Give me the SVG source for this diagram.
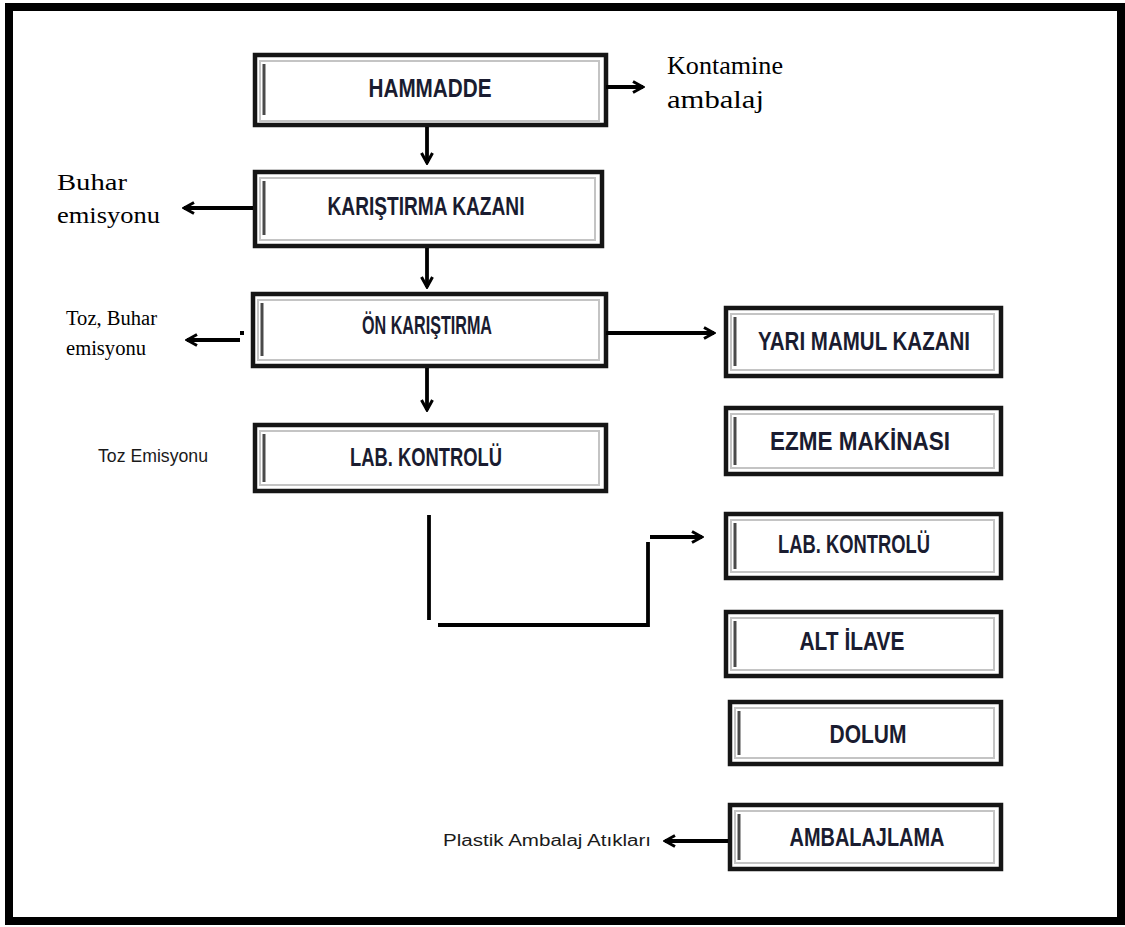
<svg xmlns="http://www.w3.org/2000/svg" width="1125" height="927" viewBox="0 0 1125 927">
<defs>
<style>
.frame{fill:none;stroke:#000;stroke-width:8}
.bo{fill:#fff;stroke:#151515;stroke-width:4.5}
.bi{fill:none;stroke:#c4c4c4;stroke-width:2}
.bb{stroke:#4a4a4a;stroke-width:3}
.bt{font-family:"Liberation Sans Narrow","Liberation Sans",Arial,sans-serif;font-weight:bold;font-size:25px;fill:#1a1c30;text-anchor:middle}
.serif{font-family:"Liberation Serif","Times New Roman",serif;fill:#000}
.sans{font-family:"Liberation Sans Narrow","Liberation Sans",Arial,sans-serif;fill:#1a1a1a}
.ln{fill:none;stroke:#000;stroke-width:3.8}
</style>
<marker id="ah" viewBox="0 0 14 14" refX="12" refY="7" markerWidth="14" markerHeight="14" markerUnits="userSpaceOnUse" orient="auto">
<path d="M2,1.5 L12,7 L2,12.5" fill="none" stroke="#000" stroke-width="3"/>
</marker>
</defs>
<rect class="frame" x="9" y="7" width="1112" height="914"/>

<g id="hammadde">
<rect class="bo" x="255" y="55" width="351" height="70"/>
<rect class="bi" x="260" y="61" width="339" height="60"/>
<line class="bb" x1="264" y1="64" x2="264" y2="115"/>
<text class="bt" x="430" y="97" textLength="123" lengthAdjust="spacingAndGlyphs">HAMMADDE</text>
</g>

<g id="karistirma-kazani">
<rect class="bo" x="255" y="172" width="347" height="74"/>
<rect class="bi" x="260" y="178" width="335" height="62"/>
<line class="bb" x1="264" y1="181" x2="264" y2="235"/>
<text class="bt" x="426" y="215" textLength="197" lengthAdjust="spacingAndGlyphs">KARIŞTIRMA KAZANI</text>
</g>

<g id="on-karistirma">
<rect class="bo" x="253" y="294" width="353" height="72"/>
<rect class="bi" x="258" y="300" width="341" height="60"/>
<line class="bb" x1="262" y1="303" x2="262" y2="356"/>
<text class="bt" x="427" y="334" textLength="130" lengthAdjust="spacingAndGlyphs">ÖN KARIŞTIRMA</text>
</g>

<g id="lab-kontrolu-1">
<rect class="bo" x="255" y="425" width="351" height="66"/>
<rect class="bi" x="260" y="431" width="339" height="54"/>
<line class="bb" x1="264" y1="434" x2="264" y2="482"/>
<text class="bt" x="426" y="466" textLength="152" lengthAdjust="spacingAndGlyphs">LAB. KONTROLÜ</text>
</g>

<g id="yari-mamul-kazani">
<rect class="bo" x="726" y="308" width="275" height="68"/>
<rect class="bi" x="731" y="314" width="263" height="56"/>
<line class="bb" x1="735" y1="317" x2="735" y2="366"/>
<text class="bt" x="864" y="350" textLength="212" lengthAdjust="spacingAndGlyphs">YARI MAMUL KAZANI</text>
</g>

<g id="ezme-makinasi">
<rect class="bo" x="726" y="408" width="275" height="66"/>
<rect class="bi" x="731" y="414" width="263" height="54"/>
<line class="bb" x1="735" y1="417" x2="735" y2="465"/>
<text class="bt" x="860" y="450" textLength="180" lengthAdjust="spacingAndGlyphs">EZME MAKİNASI</text>
</g>

<g id="lab-kontrolu-2">
<rect class="bo" x="726" y="514" width="275" height="64"/>
<rect class="bi" x="731" y="520" width="263" height="52"/>
<line class="bb" x1="735" y1="523" x2="735" y2="569"/>
<text class="bt" x="854" y="553" textLength="152" lengthAdjust="spacingAndGlyphs">LAB. KONTROLÜ</text>
</g>

<g id="alt-ilave">
<rect class="bo" x="726" y="612" width="275" height="64"/>
<rect class="bi" x="731" y="618" width="263" height="52"/>
<line class="bb" x1="735" y1="621" x2="735" y2="667"/>
<text class="bt" x="852" y="650" textLength="105" lengthAdjust="spacingAndGlyphs">ALT İLAVE</text>
</g>

<g id="dolum">
<rect class="bo" x="730" y="702" width="271" height="62"/>
<rect class="bi" x="735" y="708" width="259" height="50"/>
<line class="bb" x1="739" y1="711" x2="739" y2="755"/>
<text class="bt" x="868" y="743" textLength="77" lengthAdjust="spacingAndGlyphs">DOLUM</text>
</g>

<g id="ambalajlama">
<rect class="bo" x="730" y="805" width="271" height="64"/>
<rect class="bi" x="735" y="811" width="259" height="52"/>
<line class="bb" x1="739" y1="814" x2="739" y2="860"/>
<text class="bt" x="867" y="846" textLength="155" lengthAdjust="spacingAndGlyphs">AMBALAJLAMA</text>
</g>

<g id="labels">
<text class="serif" font-size="25" x="667" y="74" textLength="116" lengthAdjust="spacingAndGlyphs">Kontamine</text>
<text class="serif" font-size="25" x="667" y="108" textLength="97" lengthAdjust="spacingAndGlyphs">ambalaj</text>
<text class="serif" font-size="23" x="57" y="190" textLength="70" lengthAdjust="spacingAndGlyphs">Buhar</text>
<text class="serif" font-size="23" x="57" y="223" textLength="103" lengthAdjust="spacingAndGlyphs">emisyonu</text>
<text class="serif" font-size="20" x="66" y="325" textLength="91" lengthAdjust="spacingAndGlyphs">Toz, Buhar</text>
<text class="serif" font-size="20" x="66" y="355" textLength="80" lengthAdjust="spacingAndGlyphs">emisyonu</text>
<text class="sans" font-size="18" x="98" y="462" textLength="110" lengthAdjust="spacingAndGlyphs">Toz Emisyonu</text>
<text class="sans" font-size="16" x="443" y="846" textLength="208" lengthAdjust="spacingAndGlyphs">Plastik Ambalaj Atıkları</text>
</g>

<g id="connectors">
<line class="ln" x1="606" y1="87" x2="643" y2="87" marker-end="url(#ah)"/>
<line class="ln" x1="427" y1="127" x2="427" y2="163" marker-end="url(#ah)"/>
<line class="ln" x1="253" y1="208" x2="184" y2="208" marker-end="url(#ah)"/>
<line class="ln" x1="427" y1="248" x2="427" y2="287" marker-end="url(#ah)"/>
<line class="ln" x1="240" y1="340" x2="187" y2="340" marker-end="url(#ah)"/>
<rect x="240" y="331" width="4" height="4" fill="#000"/>
<line class="ln" x1="606" y1="333" x2="714" y2="333" marker-end="url(#ah)"/>
<line class="ln" x1="427" y1="368" x2="427" y2="410" marker-end="url(#ah)"/>
<line class="ln" x1="429" y1="515" x2="429" y2="620"/>
<polyline class="ln" points="438,625 648,625 648,542"/>
<line class="ln" x1="650" y1="537" x2="702" y2="537" marker-end="url(#ah)"/>
<line class="ln" x1="728" y1="841" x2="665" y2="841" marker-end="url(#ah)"/>
</g>
</svg>
